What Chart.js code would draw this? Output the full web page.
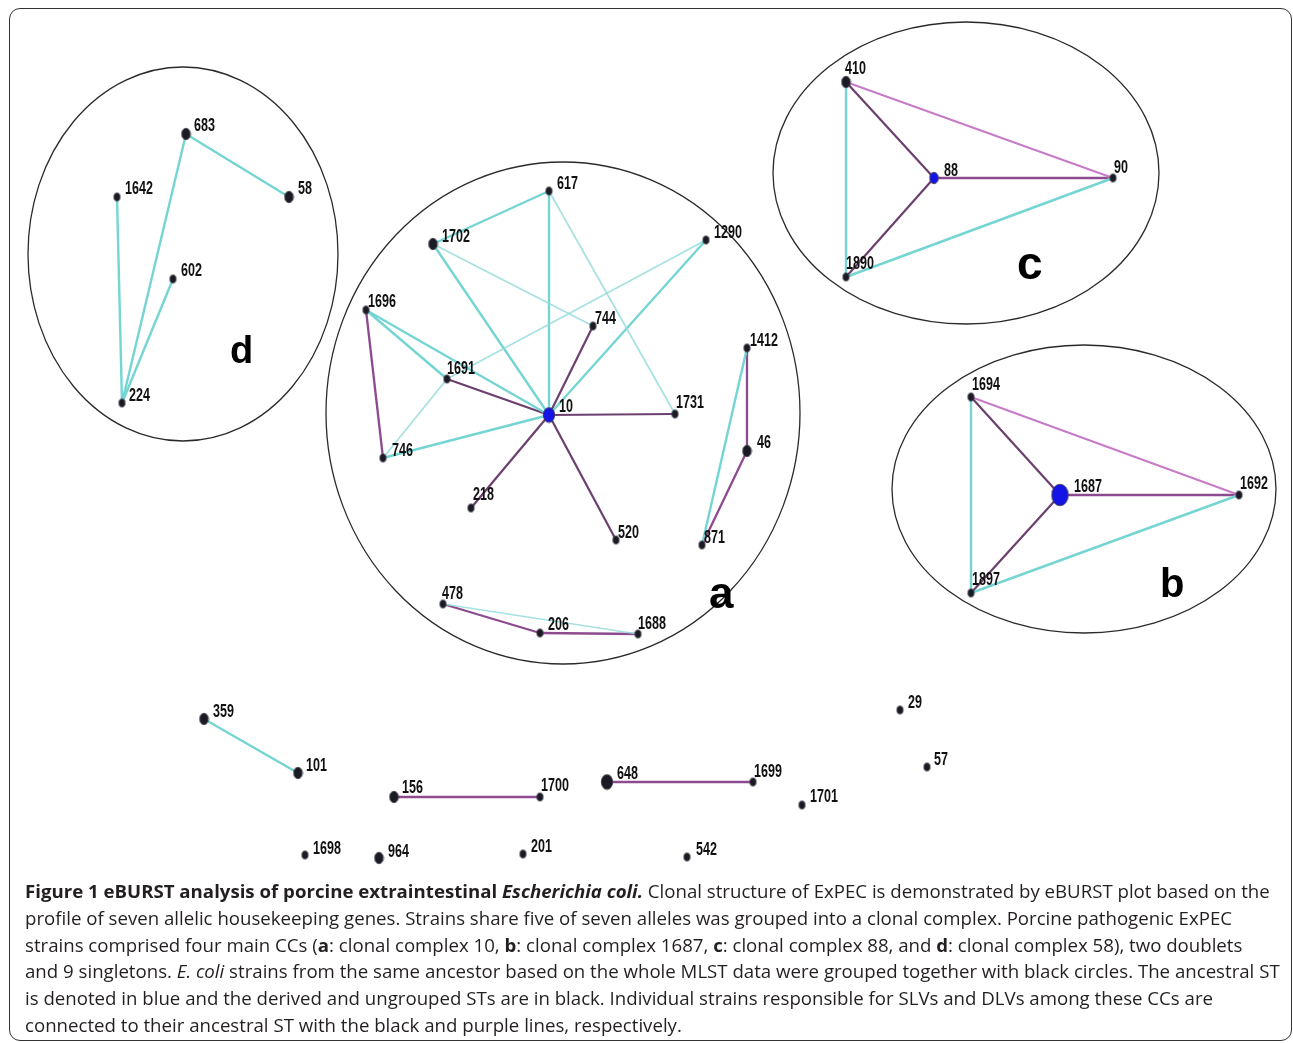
<!DOCTYPE html>
<html>
<head>
<meta charset="utf-8">
<script src="https://cdn.jsdelivr.net/npm/chart.js@4.4.1/dist/chart.umd.min.js"></script>
<style>
html,body{margin:0;padding:0;background:#fff;}
#wrap{position:relative;width:1293px;height:1043px;overflow:hidden;}
#net{position:absolute;left:0;top:0;}
#frame{position:absolute;left:9px;top:8px;width:1283px;height:1033px;border:1.6px solid #333;border-radius:11px;box-sizing:border-box;}
#caption{position:absolute;left:25px;top:878px;font-family:"Open Sans",sans-serif;font-size:18.65px;line-height:26.8px;color:#231f20;white-space:nowrap;}
#caption b{font-weight:700;}
</style>
</head>
<body>
<div id="wrap">
<canvas id="net" width="1293" height="1043"></canvas>
<div id="frame"></div>
<div id="caption">
<b>Figure 1 eBURST analysis of porcine extraintestinal <i>Escherichia coli.</i></b> Clonal structure of ExPEC is demonstrated by eBURST plot based on the<br>
profile of seven allelic housekeeping genes. Strains share five of seven alleles was grouped into a clonal complex. Porcine pathogenic ExPEC<br>
strains comprised four main CCs (<b>a</b>: clonal complex 10, <b>b</b>: clonal complex 1687, <b>c</b>: clonal complex 88, and <b>d</b>: clonal complex 58), two doublets<br>
and 9 singletons. <i>E. coli</i> strains from the same ancestor based on the whole MLST data were grouped together with black circles. The ancestral ST<br>
is denoted in blue and the derived and ungrouped STs are in black. Individual strains responsible for SLVs and DLVs among these CCs are<br>
connected to their ancestral ST with the black and purple lines, respectively.
</div>
</div>
<script>

// STs (sequence types) and where eBURST placed them

const stNames = ["10","617","1702","1290","1696","744","1691","1731","746","218","520","1412","46","871","478","206","1688",
"88","410","90","1890","1687","1694","1692","1897","58","683","1642","602","224",
"359","101","156","1700","648","1699","1698","964","201","542","1701","29","57"];

const stX = [549,549,433,706,366,593,447,675,383,471,616,747,747,702,443,540,638,
934,846,1113,846,1060,971,1239,971,289,186,117,173,122,
204,298,394,540,607,753,305,379,523,687,802,900,927];

const stY = [415,191,244,240,310,326,379,414,458,508,540,348,451,545,604,633,634,
178,82,178,277,495,397,495,593,197,134,197,279,403,
719,773,797,797,782,782,855,858,854,857,805,710,767];

// number of isolates per ST (drives dot size)
const stIsolates = [3,1,2,1,1,1,1,1,1,1,1,1,2,1,1,1,1,
2,2,1,1,5,1,1,1,2,2,1,1,1,
2,2,2,1,3,1,1,2,1,1,1,1,1];

const ancestralSTs = ["10","88","1687"];

// links between STs
const slvLinks = [["10","1691"],["10","744"],["10","1731"],["10","218"],["10","520"],
["88","410"],["88","1890"],["1687","1694"],["1687","1897"]];

const dlvLinks = [["88","90"],["1687","1692"],["1696","746"],["46","871"],["1412","46"],
["478","206"],["206","1688"],["156","1700"],["648","1699"]];

const dlvFarLinks = [["410","90"],["1694","1692"]];

const tlvLinks = [["617","1702"],["617","10"],["1702","10"],["1290","10"],["1696","10"],["1696","1691"],
["746","10"],["1412","871"],["410","1890"],["1890","90"],["1694","1897"],["1897","1692"],
["683","58"],["683","224"],["1642","224"],["602","224"],["359","101"]];

const weakLinks = [["617","1731"],["1702","744"],["1290","1691"],["1691","746"],["478","1688"]];

// clonal complexes (circled groups)
const ccNames = ["a","b","c","d"];
const ccCx = [563,1084,966,183];
const ccCy = [413,489,173,254];
const ccRx = [237,192,193,155];
const ccRy = [251,144,151,187];
const ccTagX = [709,1160,1017,230];
const ccTagY = [608,597,279,363];


// LABEL OFFSETS (px from dot)

const labelPos = {
"617":[8,-7],"1702":[9,-7],"1290":[8,-7],"1696":[2,-8],"744":[2,-7],"1691":[0,-10],"10":[10,-8],
"1731":[1,-11],"1412":[3,-7],"46":[10,-8],"746":[9,-7],"218":[2,-13],"520":[2,-7],"871":[2,-7],
"478":[-1,-10],"206":[8,-8],"1688":[0,-10],"410":[-1,-13],"88":[10,-7],"90":[1,-10],"1890":[0,-13],
"1694":[1,-12],"1687":[14,-8],"1692":[1,-11],"1897":[1,-13],"683":[8,-8],"58":[9,-8],"1642":[8,-8],
"602":[8,-8],"224":[7,-7],"359":[9,-7],"101":[8,-7],"156":[8,-9],"1700":[1,-11],"648":[10,-8],
"1699":[1,-10],"1698":[8,-6],"964":[9,-6],"201":[8,-7],"542":[9,-7],"1701":[8,-8],"29":[8,-7],"57":[7,-7]
};

const tagFont = {a:44,b:40,c:46,d:38};

function pt(name){
let i = stNames.indexOf(name);
return {x:stX[i], y:stY[i]};
}

function linkSets(links,color,width){
return links.map(function(l){
return {
type:"line",
data:[pt(l[0]),pt(l[1])],
borderColor:color,
borderWidth:width,
pointRadius:0,
fill:false,
order:2
};
});
}

// slightly tall oval dot, as eBURST output was stretched
function dotImage(r,color){
let w = Math.ceil(r*2)+2, h = Math.ceil(r*2.6)+2;
let c = document.createElement("canvas");
c.width = w; c.height = h;
let g = c.getContext("2d");
g.fillStyle = color;
g.strokeStyle = "#3a3a48";
g.lineWidth = 0.8;
g.beginPath();
g.ellipse(w/2,h/2,r,r*1.3,0,0,Math.PI*2);
g.fill();
g.stroke();
return c;
}


// ELLIPSES, TAGS AND ST LABELS

const eburstPlugin = {
id:"eburst",
beforeDatasetsDraw(chart){
let ctx = chart.ctx;
let xs = chart.scales.x, ys = chart.scales.y;
ctx.save();
ctx.strokeStyle = "#2a2a2a";
ctx.lineWidth = 1.3;
for(let i=0;i<ccNames.length;i++){
let cx = xs.getPixelForValue(ccCx[i]);
let cy = ys.getPixelForValue(ccCy[i]);
let rx = Math.abs(xs.getPixelForValue(ccCx[i]+ccRx[i]) - cx);
let ry = Math.abs(ys.getPixelForValue(ccCy[i]+ccRy[i]) - cy);
ctx.beginPath();
ctx.ellipse(cx,cy,rx,ry,0,0,Math.PI*2);
ctx.stroke();
}
ctx.fillStyle = "#000";
ctx.textAlign = "left";
ctx.textBaseline = "alphabetic";
for(let i=0;i<ccNames.length;i++){
ctx.font = "bold "+tagFont[ccNames[i]]+"px 'Liberation Sans', Arial, sans-serif";
ctx.fillText(ccNames[i], xs.getPixelForValue(ccTagX[i]), ys.getPixelForValue(ccTagY[i]));
}
ctx.restore();
},
afterDatasetsDraw(chart){
let ctx = chart.ctx;
let xs = chart.scales.x, ys = chart.scales.y;
ctx.save();
ctx.fillStyle = "#111";
ctx.font = "bold 19px 'Liberation Sans', Arial, sans-serif";
ctx.textAlign = "left";
ctx.textBaseline = "middle";
for(let i=0;i<stNames.length;i++){
let off = labelPos[stNames[i]] || [8,-7];
let px = xs.getPixelForValue(stX[i])+off[0];
let py = ys.getPixelForValue(stY[i])+off[1];
// squeeze to look like a narrow face
ctx.save();
ctx.translate(px,py);
ctx.scale(0.66,1);
ctx.fillText(stNames[i],0,0);
ctx.restore();
}
ctx.restore();
}
};


// NETWORK CHART

let nodeData = stNames.map(function(n,i){ return {x:stX[i], y:stY[i]}; });
let nodeStyles = stNames.map(function(n,i){
let r = 1.8 + 1.3*stIsolates[i];
return dotImage(r, ancestralSTs.includes(n) ? "#1414e6" : "#1b1b24");
});

let datasets = [{
type:"scatter",
data:nodeData,
pointStyle:nodeStyles,
pointRadius:4,
order:0
}];

datasets = datasets
.concat(linkSets(weakLinks,"rgba(150,220,220,0.85)",1.7))
.concat(linkSets(tlvLinks,"#74d5d3",2.4))
.concat(linkSets(dlvFarLinks,"#c77ac8",2))
.concat(linkSets(dlvLinks,"#8d4b8f",2.3))
.concat(linkSets(slvLinks,"#6b3f6e",2.2));

new Chart(
document.getElementById("net"),
{
type:"scatter",
data:{datasets:datasets},
options:{
responsive:false,
animation:false,
events:[],
layout:{padding:0,autoPadding:false},
plugins:{legend:{display:false},tooltip:{enabled:false}},
scales:{
x:{type:"linear",min:0,max:1293,display:false},
y:{type:"linear",min:0,max:1043,reverse:true,display:false}
}
},
plugins:[eburstPlugin]
}
);

</script>
</body>
</html>
